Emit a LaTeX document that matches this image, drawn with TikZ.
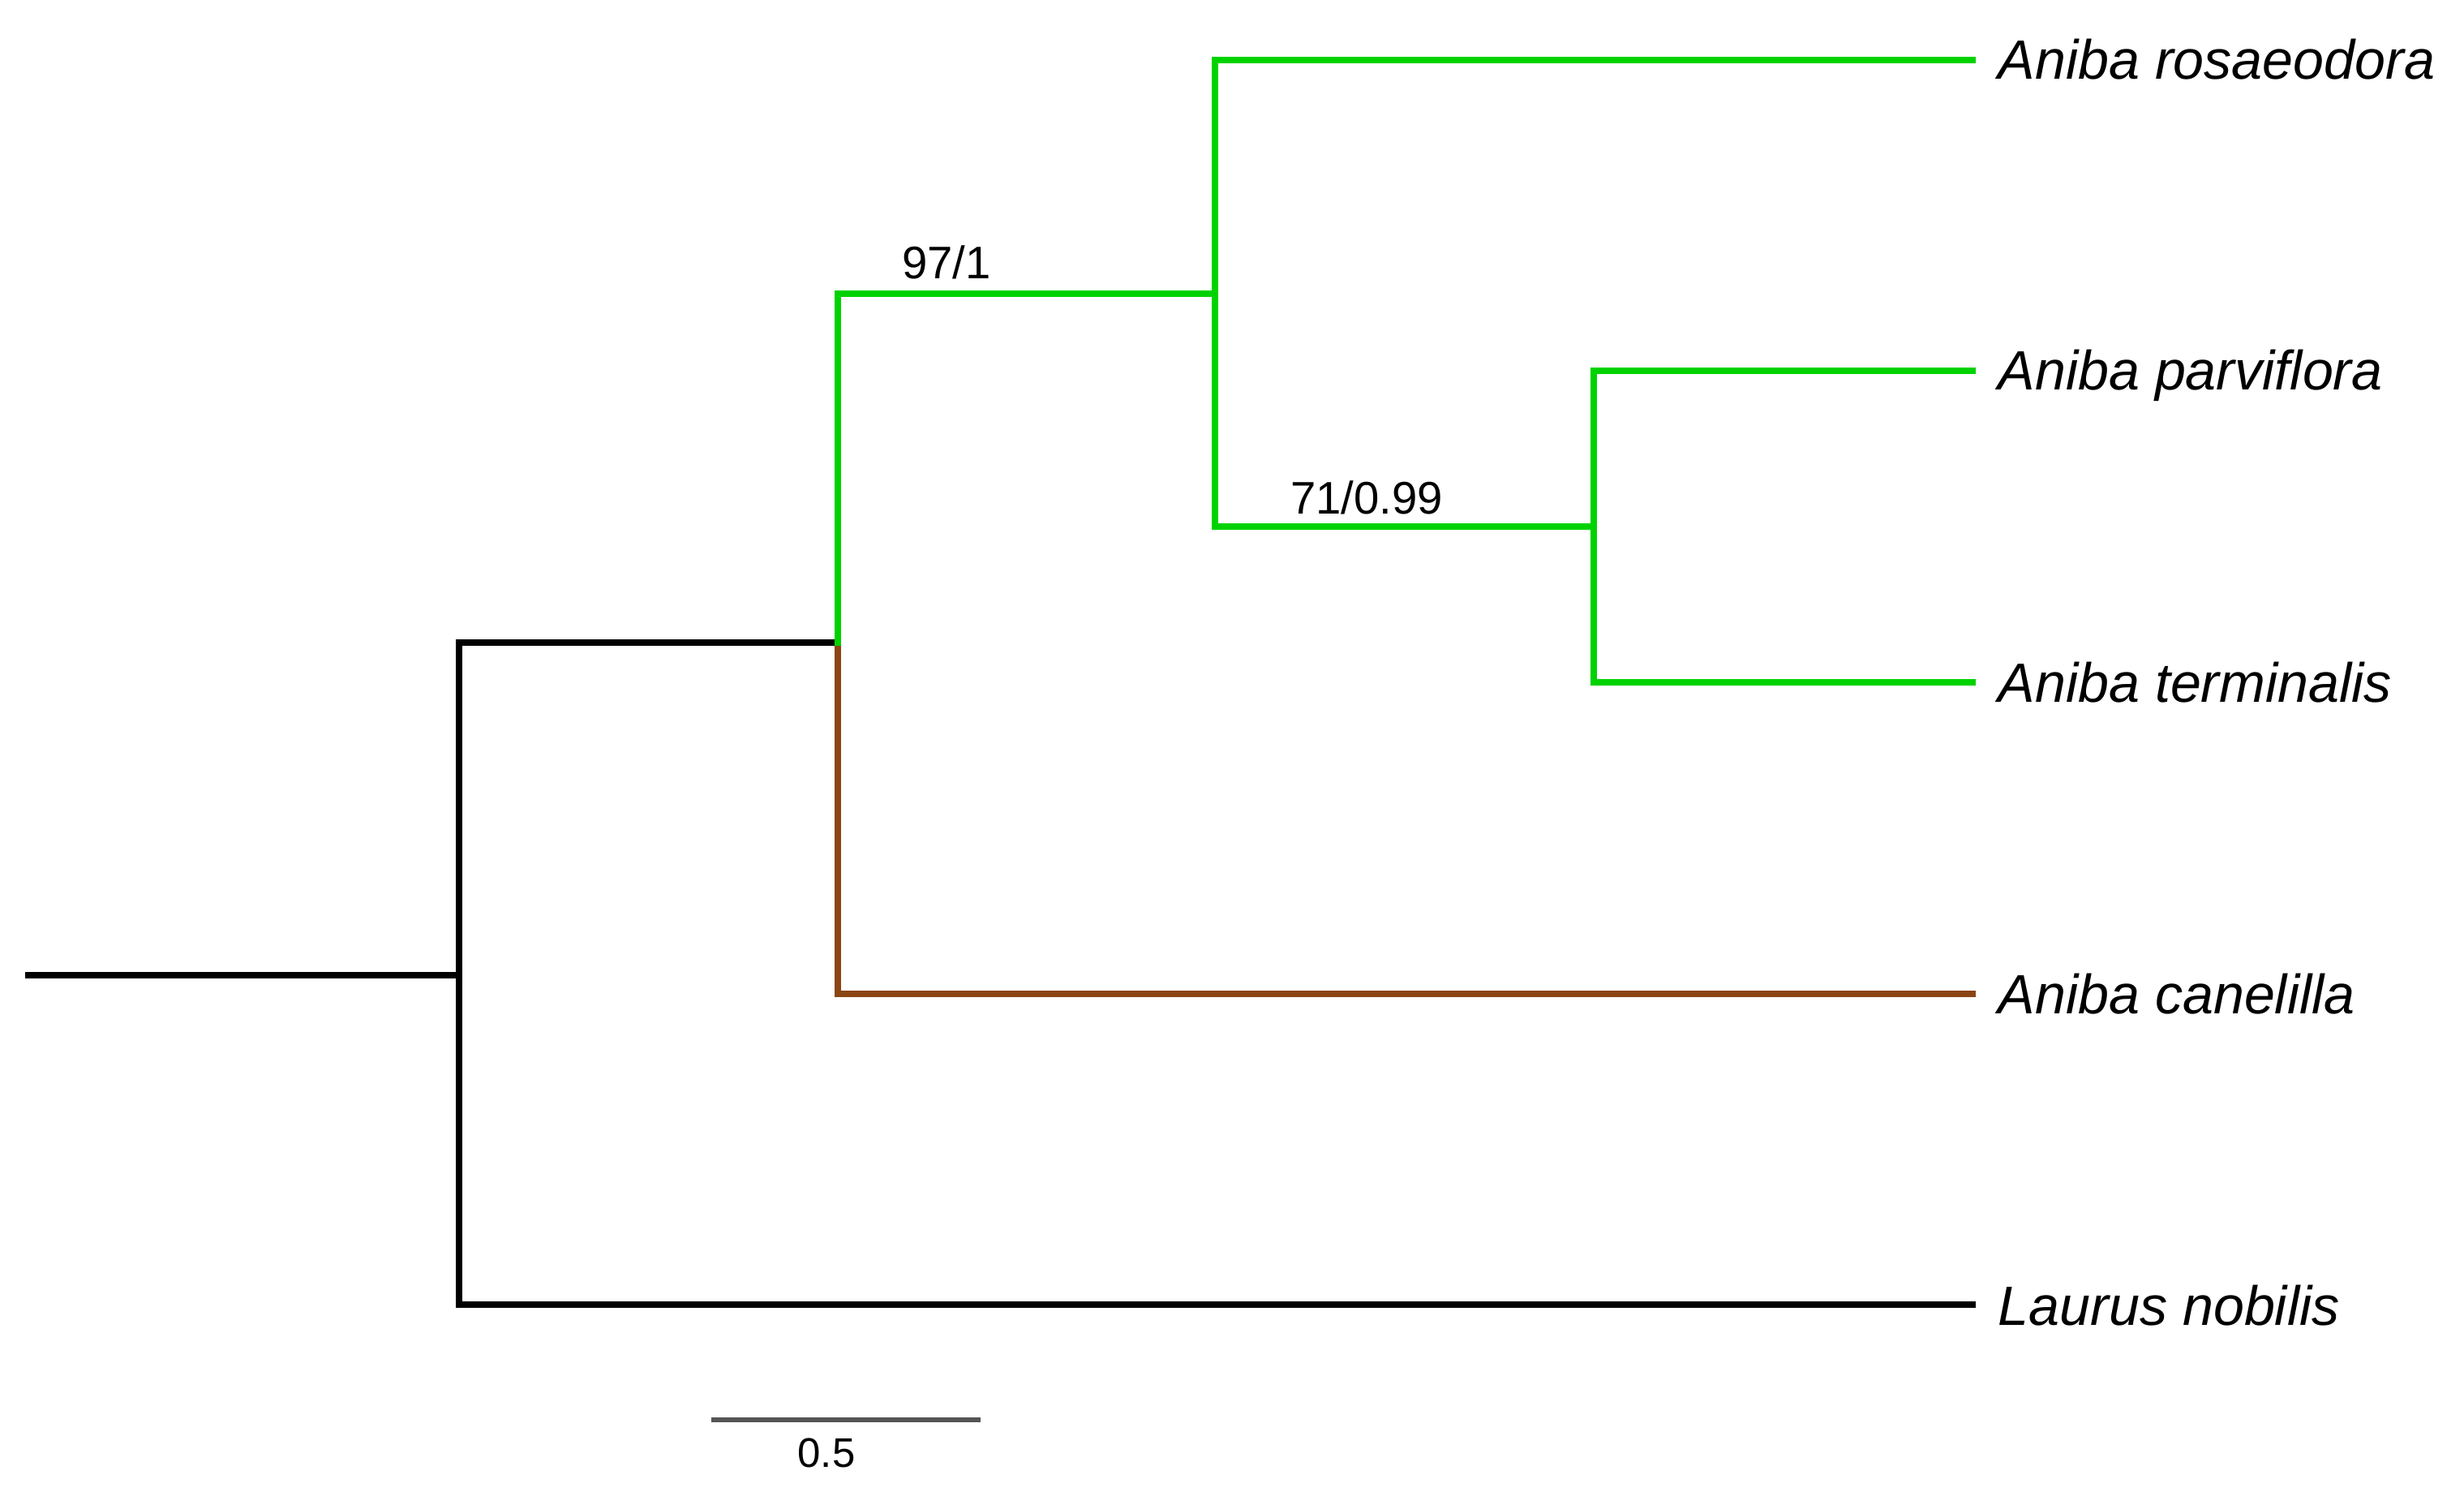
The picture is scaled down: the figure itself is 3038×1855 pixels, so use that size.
\documentclass[tikz,border=0pt]{standalone}
\usepackage{fontspec}
\setmainfont{Liberation Sans}
\definecolor{cladegreen}{RGB}{0,210,0}
\definecolor{cladebrown}{RGB}{139,69,19}
\definecolor{bargray}{RGB}{85,85,85}
\begin{document}
\begin{tikzpicture}[x=0.01cm,y=-0.01cm,
  branch/.style={line width=2.1pt,line cap=rect,line join=miter},
  taxon/.style={anchor=base west,inner sep=0pt,font=\fontsize{19.4}{23}\selectfont\itshape},
  support/.style={anchor=base,inner sep=0pt,font=\fontsize{16}{19}\selectfont},
  scalelabel/.style={anchor=base,inner sep=0pt,font=\fontsize{14.5}{17}\selectfont}]
\useasboundingbox (0,0) rectangle (3038,1855);
% internal nodes and tips
\coordinate (rootstart) at (35,1202);
\coordinate (root) at (566,1202);
\coordinate (rootup) at (566,792);
\coordinate (rootdn) at (566,1608);
\coordinate (n1) at (1033,792);
\coordinate (n1up) at (1033,362);
\coordinate (n1dn) at (1033,1225);
\coordinate (n2) at (1498,362);
\coordinate (n2up) at (1498,74);
\coordinate (n2dn) at (1498,649);
\coordinate (n3) at (1965,649);
\coordinate (n3up) at (1965,457);
\coordinate (n3dn) at (1965,841);
\coordinate (tros) at (2432,74);
\coordinate (tpar) at (2432,457);
\coordinate (tter) at (2432,841);
\coordinate (tcan) at (2432,1225);
\coordinate (tlau) at (2432,1608);
% labels
\node[taxon] (lros) at (2463,98) {Aniba rosaeodora};
\node[taxon] (lpar) at (2463,481) {Aniba parviflora};
\node[taxon] (lter) at (2463,865) {Aniba terminalis};
\node[taxon] (lcan) at (2463,1249) {Aniba canelilla};
\node[taxon] (llau) at (2463,1633) {Laurus nobilis};
\node[support] (s1) at (1167,344) {97/1};
\node[support] (s2) at (1685,634) {71/0.99};
% black branches
\draw[branch,black] (rootstart) -- (root);
\draw[branch,black] (rootup) -- (rootdn);
\draw[branch,black] (rootup) -- (n1);
\draw[branch,black] (rootdn) -- (tlau);
% brown
\draw[branch,cladebrown] (n1) -- (n1dn) -- (tcan);
% green
\draw[branch,cladegreen] (n1) -- (n1up) -- (n2);
\draw[branch,cladegreen] (n2up) -- (n2dn) -- (n3);
\draw[branch,cladegreen] (n2up) -- (tros);
\draw[branch,cladegreen] (n3up) -- (n3dn);
\draw[branch,cladegreen] (n3up) -- (tpar);
\draw[branch,cladegreen] (n3dn) -- (tter);
% scale bar
\coordinate (sb1) at (877,1750);
\coordinate (sb2) at (1209,1750);
\draw[line width=1.5pt,bargray] (sb1) -- (sb2);
\node[scalelabel] (sbl) at (1019,1808) {0.5};
\end{tikzpicture}
\end{document}
